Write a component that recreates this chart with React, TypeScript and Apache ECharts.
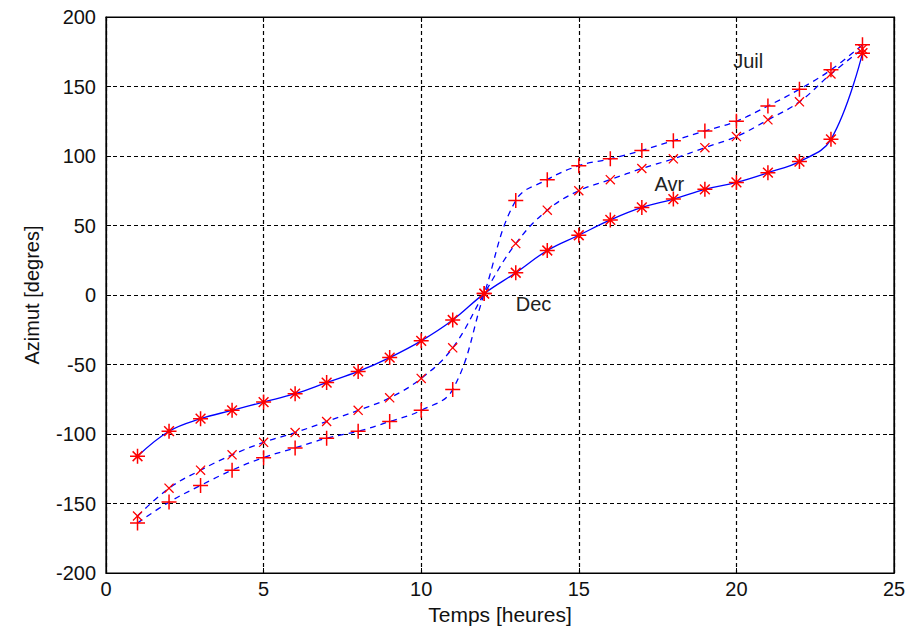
import React, { useEffect, useRef } from "react";
import * as echarts from "echarts";

const hours = [1, 2, 3, 4, 5, 6, 7, 8, 9, 10, 11, 12, 13, 14, 15, 16, 17, 18, 19, 20, 21, 22, 23, 24];
const decAzimuth = [-116, -98, -89, -83, -77, -71, -63, -55, -45, -33, -18, 1, 16, 32, 43, 54, 63, 69, 76, 81, 88, 96, 112, 174];
const avrAzimuth = [-159, -139, -126, -115, -106, -99, -91, -83, -74, -60, -38, 1, 37, 61, 75, 83, 91, 98, 106, 114, 126, 139, 159, 177];
const juilAzimuth = [-164, -149, -137, -126, -117, -110, -103, -98, -91, -83, -68, 1, 68, 83, 93, 98, 104, 111, 118, 125, 136, 148, 162, 180];

const annotationLabels = ["Juil", "Avr", "Dec"];
const annotationX = [19.9, 17.4, 13.0];
const annotationY = [168, 80, -6.5];

const plusPath = "path://M-0.1,-1L0.1,-1L0.1,1L-0.1,1ZM-1,-0.1L1,-0.1L1,0.1L-1,0.1Z";
const crossPath = "path://M-1,-0.82L-0.82,-1L1,0.82L0.82,1ZM0.82,-1L1,-0.82L-0.82,1L-1,0.82Z";
const starPath =
  "path://M-0.1,-1L0.1,-1L0.1,1L-0.1,1ZM-1,-0.1L1,-0.1L1,0.1L-1,0.1ZM-0.72,-0.58L-0.58,-0.72L0.72,0.58L0.58,0.72ZM0.58,-0.72L0.72,-0.58L-0.58,0.72L-0.72,0.58ZM-0.25,-0.25L0.25,-0.25L0.25,0.25L-0.25,0.25Z";

const FONT = "Liberation Sans, Arial, sans-serif";

export default function App() {
  const ref = useRef<HTMLDivElement>(null);
  useEffect(() => {
    if (!ref.current) return;
    const chart = echarts.init(ref.current, undefined, { renderer: "svg" });
    const mk = (vals: number[]) => hours.map((h, i) => [h, vals[i]]);
    const gridLine = { show: true, lineStyle: { color: "#000", type: [4, 3], width: 1.2 } };
    const edgeLine = { show: true, onZero: false, lineStyle: { color: "#000", width: 1.2 } };
    const tick = { show: true, inside: true, length: 5, lineStyle: { color: "#000" } };
    const option: any = {
      animation: false,
      backgroundColor: "#fff",
      grid: { left: 106, right: 17, top: 17, bottom: 56, show: true, borderColor: "#000", borderWidth: 1.2 },
      xAxis: [
        {
          type: "value", min: 0, max: 25, interval: 5,
          name: "Temps [heures]", nameLocation: "middle", nameGap: 31,
          nameTextStyle: { fontFamily: FONT, fontSize: 21, color: "#111" },
          axisLine: edgeLine,
          axisTick: tick,
          axisLabel: { fontFamily: FONT, fontSize: 20, color: "#111", margin: 6 },
          splitLine: gridLine,
        },
        {
          type: "value", min: 0, max: 25, interval: 5, position: "top",
          axisLine: edgeLine,
          axisTick: tick,
          axisLabel: { show: false },
          splitLine: { show: false },
        },
      ],
      yAxis: [
        {
          type: "value", min: -200, max: 200, interval: 50,
          name: "Azimut [degres]", nameLocation: "middle", nameGap: 64, nameRotate: 90,
          nameTextStyle: { fontFamily: FONT, fontSize: 20, color: "#111" },
          axisLine: edgeLine,
          axisTick: tick,
          axisLabel: { fontFamily: FONT, fontSize: 20, color: "#111", margin: 10 },
          splitLine: gridLine,
        },
        {
          type: "value", min: -200, max: 200, interval: 50, position: "right",
          axisLine: edgeLine,
          axisTick: tick,
          axisLabel: { show: false },
          splitLine: { show: false },
        },
      ],
      series: [
        {
          name: "Dec", type: "line", xAxisIndex: 0, yAxisIndex: 0, data: mk(decAzimuth), smooth: 0.4,
          lineStyle: { color: "#0000ff", width: 1.3, type: "solid" },
          symbol: starPath, symbolSize: 15, showAllSymbol: true,
          itemStyle: { color: "#ff0000", borderWidth: 0 }, z: 3,
        },
        {
          name: "Avr", type: "line", xAxisIndex: 0, yAxisIndex: 0, data: mk(avrAzimuth), smooth: 0.4,
          lineStyle: { color: "#0000ff", width: 1.3, type: [6, 5] },
          symbol: crossPath, symbolSize: 10, showAllSymbol: true,
          itemStyle: { color: "#ff0000", borderWidth: 0 }, z: 3,
        },
        {
          name: "Juil", type: "line", xAxisIndex: 0, yAxisIndex: 0, data: mk(juilAzimuth), smooth: 0.4,
          lineStyle: { color: "#0000ff", width: 1.3, type: [6, 5] },
          symbol: plusPath, symbolSize: 15, showAllSymbol: true,
          itemStyle: { color: "#ff0000", borderWidth: 0 }, z: 3,
        },
      ],
    };
    chart.setOption(option);
    const texts = annotationLabels.map((label, i) => {
      const p = chart.convertToPixel({ seriesIndex: 0 }, [annotationX[i], annotationY[i]]) as number[];
      return {
        type: "text", x: p[0], y: p[1], z: 10,
        style: { text: label, fontFamily: FONT, fontSize: 20, fill: "#222", textAlign: "left", textVerticalAlign: "middle" },
      };
    });
    chart.setOption({ graphic: texts });
    return () => chart.dispose();
  }, []);
  return <div ref={ref} style={{ position: "fixed", left: 0, top: 0, width: 911, height: 630, background: "#fff" }} />;
}
